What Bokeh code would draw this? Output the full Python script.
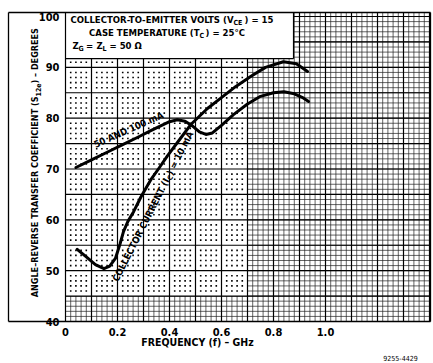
import numpy as np
from bokeh.plotting import figure
from bokeh.models import Range1d
from bokeh.core.properties import value
from bokeh.embed import file_html
from bokeh.resources import INLINE

# ---- data -------------------------------------------------------------
x_ticks = [0, 0.2, 0.4, 0.6, 0.8, 1.0]
x_tick_labels = ["0", "0.2", "0.4", "0.6", "0.8", "1.0"]
y_ticks = [40, 50, 60, 70, 80, 90, 100]
y_tick_labels = ["40", "50", "60", "70", "80", "90", "100"]

# collector current 50 and 100 mA
freq_50_100 = [0.04, 0.10, 0.16, 0.22, 0.28, 0.33, 0.37, 0.40, 0.43, 0.46, 0.49,
               0.515, 0.54, 0.565, 0.60, 0.646, 0.70, 0.75, 0.80, 0.84, 0.88,
               0.91, 0.935]
angle_50_100 = [70.3, 71.8, 73.3, 74.8, 76.3, 77.6, 78.6, 79.3, 79.7, 79.4, 78.4,
                77.3, 76.8, 77.1, 78.6, 80.7, 82.8, 84.3, 85.0, 85.2, 84.8,
                84.1, 83.3]

# collector current 10 mA
freq_10 = [0.045, 0.08, 0.115, 0.148, 0.17, 0.192, 0.21, 0.223, 0.24, 0.262,
           0.29, 0.327, 0.36, 0.392, 0.442, 0.481, 0.546, 0.596, 0.654, 0.712,
           0.769, 0.838, 0.888, 0.931]
angle_10 = [54.2, 52.7, 51.2, 50.4, 50.9, 52.4, 55.3, 57.7, 59.7, 61.6,
            64.5, 67.8, 70.2, 72.6, 76.0, 78.7, 81.9, 83.9, 86.2, 88.2,
            90.0, 91.1, 90.7, 89.2]

# ---- layout -----------------------------------------------------------
# The frame covers the whole canvas; the chart box, ticks and titles are
# drawn inside it, positioned in canvas pixels through px()/py().
W, H = 433, 363
PX_PER_GHZ = 260.0
PX_PER_DEG = 5.083
X0_PIX = 65.0      # canvas x of 0 GHz
Y40_PIX = 321.0    # canvas y of 40 degrees


def px(xpix):
    return (xpix - X0_PIX) / PX_PER_GHZ


def py(ypix):
    return 40 + (Y40_PIX - ypix) / PX_PER_DEG


FONT = "DejaVu Sans Condensed, Liberation Sans Narrow, Arial Narrow, sans-serif"

p = figure(width=W, height=H, output_backend="svg", toolbar_location=None,
           x_range=Range1d(px(0), px(W)), y_range=Range1d(py(H), py(0)),
           min_border=0)
p.grid.visible = False
p.axis.visible = False
p.outline_line_color = None
p.background_fill_color = "white"
p.border_fill_color = "white"

# ---- graph paper --------------------------------------------------------
GX_MAX = px(430)
GY_TOP = py(12)
BOX_LEFT = px(8)
DOT_X1, DOT_Y0, DOT_Y1 = 0.7, 45.0, 91.7     # dotted-paper patch
BOX_X1, BOX_Y0 = 0.877, 91.7                 # conditions box

minor_x = np.round(np.arange(0, GX_MAX + 1e-9, 0.02), 3)
minor_y = np.arange(40, 101, 1.0)
p.segment(x0=minor_x, y0=40, x1=minor_x, y1=GY_TOP, line_color="#222222",
          line_width=0.7)
p.segment(x0=0, y0=minor_y, x1=GX_MAX, y1=minor_y, line_color="#222222",
          line_width=0.7)

# white patches: dotted area and conditions box
p.quad(left=[0, 0], right=[DOT_X1, BOX_X1], bottom=[DOT_Y0, BOX_Y0],
       top=[DOT_Y1, GY_TOP], fill_color="white", line_color=None)

gx, gy = np.meshgrid(minor_x[(minor_x > 0) & (minor_x < DOT_X1)],
                     minor_y[(minor_y > DOT_Y0) & (minor_y < DOT_Y1)])
gx, gy = gx.ravel(), gy.ravel()
frac = np.round(gx * 10, 3) % 1
on_major = np.isclose(frac, 0) | np.isclose(frac, 1) | (gy % 5 == 0)
p.scatter(gx[~on_major], gy[~on_major], marker="square", size=1.6,
          fill_color="black", line_color=None)

major_x = np.round(np.arange(0, GX_MAX + 1e-9, 0.1), 3)
vx_top = np.where(major_x == 0, GY_TOP, np.where(major_x <= BOX_X1, BOX_Y0, GY_TOP))
p.segment(x0=major_x, y0=40, x1=major_x, y1=vx_top, line_color="black",
          line_width=1.2)
major_y = np.arange(45, 101, 5.0)
hy_left = np.where(major_y >= BOX_Y0, BOX_X1, 0)
p.segment(x0=hy_left, y0=major_y, x1=GX_MAX, y1=major_y, line_color="black",
          line_width=1.2)
# conditions box edges
p.segment(x0=[0, BOX_X1], y0=[BOX_Y0, BOX_Y0], x1=[BOX_X1, BOX_X1],
          y1=[BOX_Y0, GY_TOP], line_color="black", line_width=1.2)
# outer chart box
p.segment(x0=[BOX_LEFT, BOX_LEFT, BOX_LEFT, GX_MAX],
          y0=[GY_TOP, GY_TOP, 40, 40],
          x1=[GX_MAX, BOX_LEFT, GX_MAX, GX_MAX],
          y1=[GY_TOP, 40, 40, GY_TOP], line_color="black", line_width=1.3)

# ---- curves -------------------------------------------------------------
p.line(freq_50_100, angle_50_100, line_color="black", line_width=3,
       line_join="round", line_cap="round")
p.line(freq_10, angle_10, line_color="black", line_width=3,
       line_join="round", line_cap="round")


# ---- text ---------------------------------------------------------------
def put(xpix, ypix, txt, size, align="left", angle=0.0, style="bold"):
    p.text(x=[px(xpix)], y=[py(ypix)], text=[txt], angle=angle,
           text_font=value(FONT), text_font_size=f"{size}px",
           text_font_style=style, text_align=align, text_baseline="middle",
           text_color="black")


MAIN, SUB = 9.5, 7

# tick labels
p.text(x=[px(59)] * len(y_ticks), y=y_ticks, text=y_tick_labels,
       text_font=value(FONT), text_font_size="11px", text_font_style="bold",
       text_align="right", text_baseline="middle", text_color="black")
p.text(x=x_ticks, y=[py(331)] * len(x_ticks), text=x_tick_labels,
       text_font=value(FONT), text_font_size="11px", text_font_style="bold",
       text_align="center", text_baseline="middle", text_color="black")

# conditions box
put(233, 19, "COLLECTOR-TO-EMITTER VOLTS (V", MAIN, "right")
put(233, 22, "CE", SUB)
put(244, 19, ") = 15", MAIN)
put(199, 32, "CASE TEMPERATURE (T", MAIN, "right")
put(199, 35, "C", SUB)
put(205, 32, ") = 25°C", MAIN)
put(72, 45, "Z", MAIN)
put(78, 48, "G", SUB)
put(89, 45, "=", MAIN, "center")
put(96, 45, "Z", MAIN)
put(102, 48, "L", SUB)
put(109, 45, "= 50 Ω", MAIN)

# y-axis title (vertical, with subscript)
YL = 34
YT = 9
put(YL, 96, "ANGLE–REVERSE TRANSFER COEFFICIENT (S", YT, "right", np.pi / 2)
put(YL + 3, 96, "12e", SUB, "left", np.pi / 2)
put(YL, 83, ") – DEGREES", YT, "left", np.pi / 2)

# curve labels
put(128, 129, "50 AND 100 mA", MAIN, "center", np.deg2rad(24))
th = np.deg2rad(63)
ux, uy = np.cos(th), -np.sin(th)
vx, vy = np.sin(th), np.cos(th)
P = (163.6 + 3 * vx, 176.9 + 3 * vy)
put(P[0], P[1], "COLLECTOR CURRENT (I", MAIN, "right", th)
put(P[0] + 3 * vx, P[1] + 3 * vy, "C", SUB, "left", th)
put(P[0] + 5 * ux, P[1] + 5 * uy, ") = 10 mA", MAIN, "left", th)

# x-axis title and drawing number
put(197, 341, "FREQUENCY (f) – GHz", 10.5, "center")
put(400, 357, "9255-4429", 7, "center", style="normal")

open("out.html", "w").write(file_html(p, INLINE))
